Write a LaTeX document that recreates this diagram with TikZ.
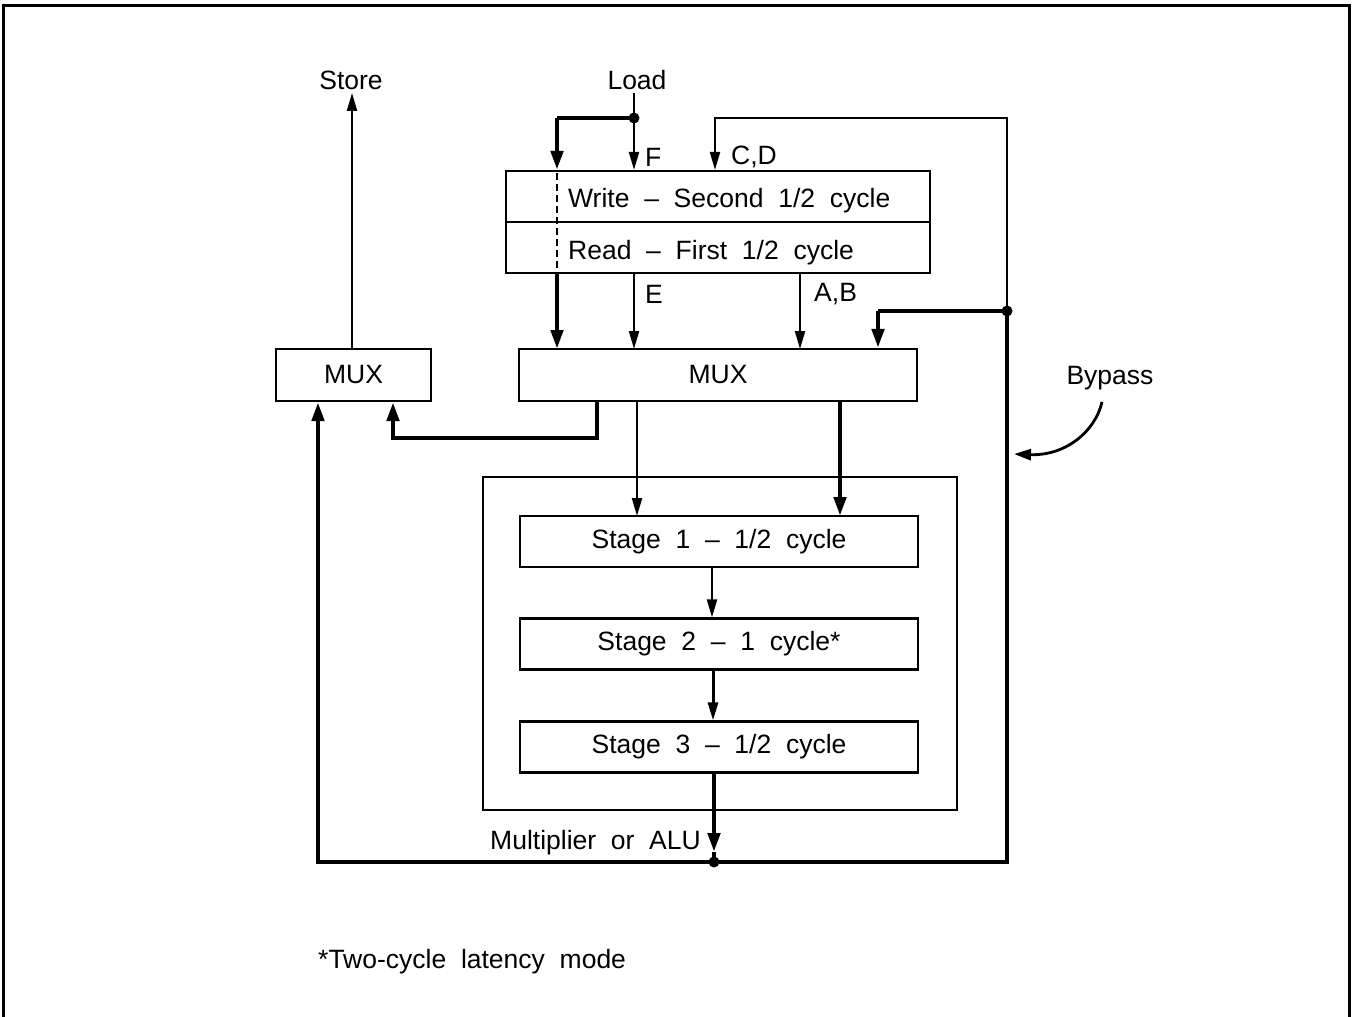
\documentclass[tikz,border=0pt]{standalone}
\usepackage{fontspec}
\setmainfont{Liberation Sans}
\usetikzlibrary{arrows.meta}
\begin{document}
\begin{tikzpicture}[x=1pt,y=-1pt,
  every node/.style={font=\fontsize{26.5}{30}\selectfont},
  blk/.style={draw,line width=2.2pt,inner sep=0pt,anchor=center},
  thin/.style={line width=2.2pt},
  fat/.style={line width=4.5pt},
  tip/.style={-{Triangle[length=18pt,width=10pt]}},
  fattip/.style={-{Triangle[length=19pt,width=12pt]}},
  junc/.style={circle,fill,inner sep=0pt,minimum size=11pt},
  lbl/.style={inner sep=0pt}]
\useasboundingbox (0,0) rectangle (1352,1017);
% frame, open at the bottom
\draw[line width=3pt] (3,1017) -- (3,5) -- (1349,5) -- (1349,1017);

% register file and multiplexers
\node[blk,minimum width=424pt,minimum height=51pt] (wr) at (718,196.5) {};
\node[blk,minimum width=424pt,minimum height=51pt] (rd) at (718,247.5) {};
\node[lbl,anchor=west] at (568,201) {Write\ \ –\ \ Second\ \ 1/2\ \ cycle};
\node[lbl,anchor=west] at (568,253) {Read\ \ –\ \ First\ \ 1/2\ \ cycle};
\draw[line width=2.8pt,dash pattern=on 7pt off 4pt] (557,173) -- (557,271);

\node[blk,minimum width=398pt,minimum height=52pt] (bmux) at (718,375) {MUX};
\node[blk,minimum width=155pt,minimum height=52pt] (smux) at (353.5,375) {\raisebox{-2pt}{MUX}};

% arithmetic unit
\node[blk,minimum width=474pt,minimum height=333pt] (alu) at (720,643.5) {};
\node[blk,minimum width=398pt,minimum height=51pt] (s1) at (719,541.5) {\raisebox{-3pt}{Stage\ \ 1\ \ –\ \ 1/2\ \ cycle}};
\node[blk,minimum width=398pt,minimum height=51pt] (s2) at (719,644) {\raisebox{-3pt}{Stage\ \ 2\ \ –\ \ 1\ \ cycle*}};
\node[blk,minimum width=398pt,minimum height=51pt] (s3) at (719,747) {\raisebox{-3pt}{Stage\ \ 3\ \ –\ \ 1/2\ \ cycle}};

% labels
\node (store) at (351,80) {Store};
\node (load) at (637,80) {Load};
\node[lbl,anchor=west] at (645,157) {F};
\node[lbl,anchor=west] at (731,157) {C,D};
\node[lbl,anchor=west] at (645,294) {E};
\node[lbl,anchor=west] at (814,294) {A,B};
\node[lbl,anchor=east] at (701,843) {Multiplier\ \ or\ \ ALU};
\node (bypass) at (1110,378) {Bypass};
\node[lbl,anchor=west] at (318,962) {*Two-cycle\ \ latency\ \ mode};

% junction points
\coordinate (loadJ) at (634,118);
\coordinate (fbL) at (557,118);
\coordinate (cdTop) at (715,118);
\coordinate (rTop) at (1007,118);
\coordinate (rJ) at (1007,311);
\coordinate (abJ) at (878,311);
\coordinate (outJ) at (714,862);
\coordinate (lBot) at (318,862);
\coordinate (rBot) at (1007,862);
\coordinate (outTip) at (714,852);
\coordinate (sBot) at (597,438);
\coordinate (sRet) at (393,438);

% load path
\draw[thin] (loadJ |- load.south) -- (loadJ);
\draw[thin,tip] (loadJ) -- (loadJ |- wr.north);
\draw[fat] (loadJ) -- (fbL);
\draw[fat,fattip] (fbL) -- (fbL |- wr.north);
\node[junc] at (loadJ) {};

% C,D write-back
\draw[thin,tip] (rJ) -- (rTop) -- (cdTop) -- (cdTop |- wr.north);

% register file to MUX
\draw[fat,fattip] (557,273) -- (557 ,349);
\draw[thin,tip] (634,273) -- (634,349);
\draw[thin,tip] (800,273) -- (800,349);

% bypass into MUX
\draw[fat] (rJ) -- (abJ);
\draw[fat,fattip] (abJ) -- (abJ |- bmux.north);
\node[junc] at (rJ) {};

% MUX to store MUX
\draw[fat,fattip] (sBot |- bmux.south) -- (sBot) -- (sRet) -- (sRet |- smux.south);
\draw[thin,tip] (smux.north -| 352,0) -- (store.south -| 352,0);

% MUX to stage 1
\draw[thin,tip] (637,401) -- (637,516);
\draw[fat,fattip] (840,401) -- (840,516);

% stage to stage
\draw[thin,tip] (s1.south -| 712,0) -- (s2.north -| 712,0);
\draw[line width=3pt,tip] (s2.south -| 713,0) -- (s3.north -| 713,0);

% result bus
\draw[fat,fattip] (s3.south -| outJ) -- (outTip);
\draw[fat] (outTip) -- (outJ);
\draw[fat,fattip] (outJ) -- (lBot) -- (lBot |- smux.south);
\draw[fat] (outJ) -- (rBot) -- (rJ);
\node[junc] at (outJ) {};

% bypass pointer
\draw[line width=2.8pt,-{Triangle[length=17pt,width=11pt]}] (1102,402) .. controls (1095,432) and (1065,456) .. (1014,454);
\end{tikzpicture}
\end{document}
